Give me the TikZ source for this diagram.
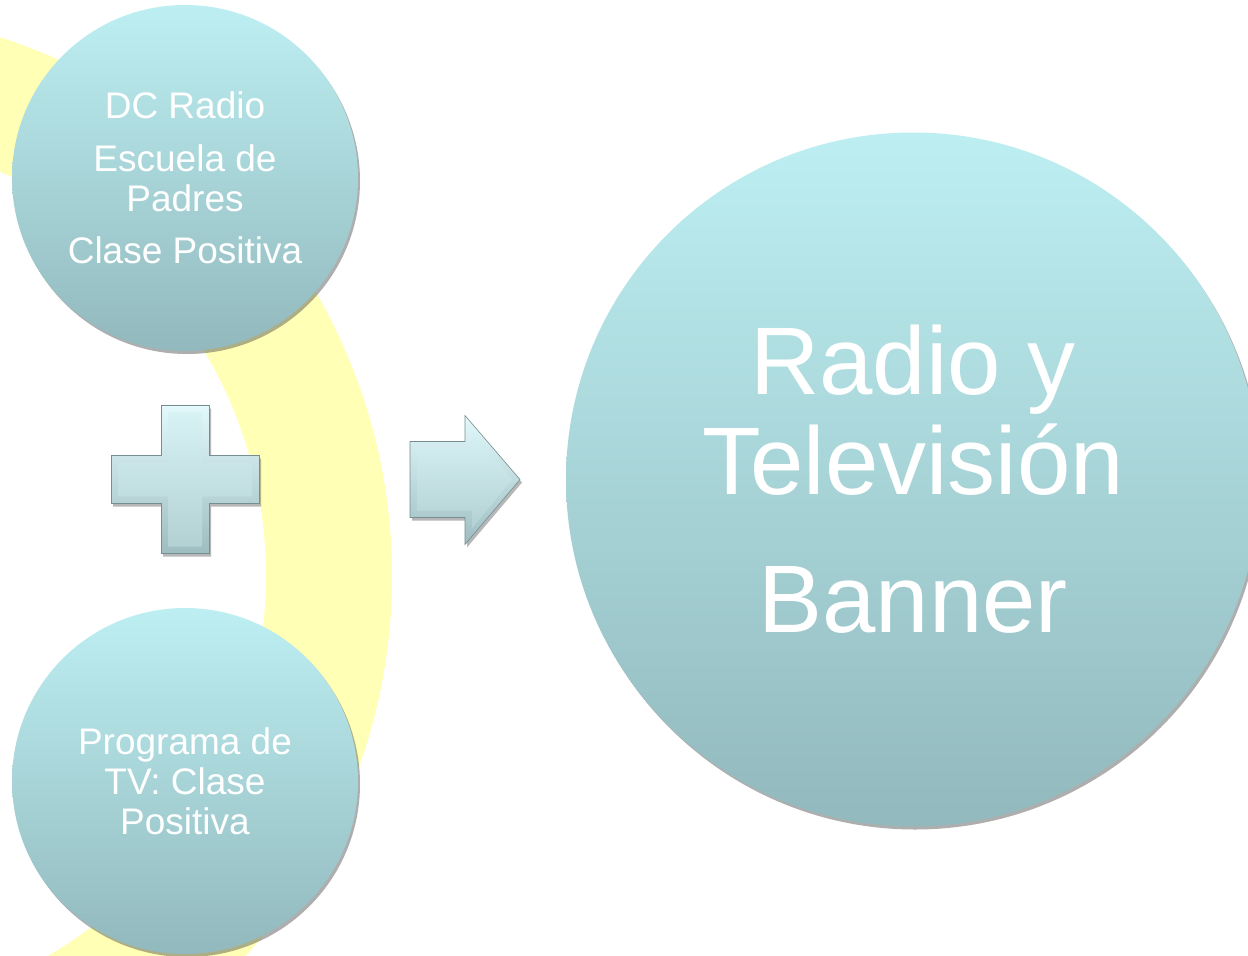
\documentclass[tikz,border=0pt]{standalone}
\usepackage{fontspec}
\setmainfont{Liberation Sans}
\usepackage{tikz}
\usetikzlibrary{positioning,shadows}

\definecolor{bubbletop}{HTML}{BDEFF2}
\definecolor{bubblebot}{HTML}{92B9BD}
\definecolor{signtop}{HTML}{E3F9FB}
\definecolor{signbot}{HTML}{9EBDC1}
\definecolor{facettop}{HTML}{D6F2F5}
\definecolor{facetbot}{HTML}{B3D0D3}
\definecolor{ringyellow}{HTML}{FFFFB5}

\begin{document}
\begin{tikzpicture}[x=1pt,y=-1pt,node distance=301.5pt,on grid]
       \tikzstyle{bubble}=[circle, minimum size=346pt, inner sep=0pt,
         top color=bubbletop, bottom color=bubblebot, text=white, align=center,
         font=\fontsize{37}{40}\selectfont,
         drop shadow={shadow xshift=2pt, shadow yshift=-3pt, opacity=0.45, fill=black!70}]
       \tikzstyle{bigbubble}=[bubble, minimum size=694pt, font=\fontsize{96}{100}\selectfont]
       \tikzstyle{sign}=[top color=signtop, bottom color=signbot, draw=signbot!75!black,
         line width=0.6pt, line join=miter,
         drop shadow={shadow xshift=2pt, shadow yshift=-3pt, opacity=0.4, fill=black!70}]
       \tikzstyle{facet}=[top color=facettop, bottom color=facetbot]

       \clip (0,0) rectangle (1248,956);
       \fill[white] (0,0) rectangle (1248,956);

       % yellow band behind the left column
       \coordinate (ringc) at (-174,576);
       \draw[ringyellow, line width=126pt] (ringc) circle[radius=503pt];

       \node[bubble] (dc) at (185,178) {DC Radio\\[13pt]Escuela de\\Padres\\[12pt]Clase Positiva};
       \coordinate[below=of dc] (plus);
       \node[bubble, below=of plus, anchor=center] (tv) {Programa de\\TV: Clase\\Positiva};
       \coordinate[right=225pt of plus] (arr);
       \node[bigbubble, right=728pt of plus, anchor=center] (media) {Radio y\\Televisión\\[38pt]Banner};

       % plus sign and arrow, each with a bevelled face
       \path[sign] (plus) ++(-24,-74) -- ++(48,0) -- ++(0,50) -- ++(50,0) -- ++(0,48)
         -- ++(-50,0) -- ++(0,50) -- ++(-48,0) -- ++(0,-50) -- ++(-50,0) -- ++(0,-48)
         -- ++(50,0) -- cycle;
       \path[facet] (plus) ++(-17,-67) -- ++(34,0) -- ++(0,50) -- ++(50,0) -- ++(0,34)
         -- ++(-50,0) -- ++(0,50) -- ++(-34,0) -- ++(0,-50) -- ++(-50,0) -- ++(0,-34)
         -- ++(50,0) -- cycle;
       \path[sign] (arr) ++(0,-38) -- ++(55,0) -- ++(0,-26) -- ++(55,64) -- ++(-55,65)
         -- ++(0,-27) -- ++(-55,0) -- cycle;
       \path[facet] (arr) ++(7,-31) -- ++(55,0) -- ++(0,-18) -- ++(40,49) -- ++(-40,49)
         -- ++(0,-18) -- ++(-55,0) -- cycle;
     \end{tikzpicture}
\end{document}
